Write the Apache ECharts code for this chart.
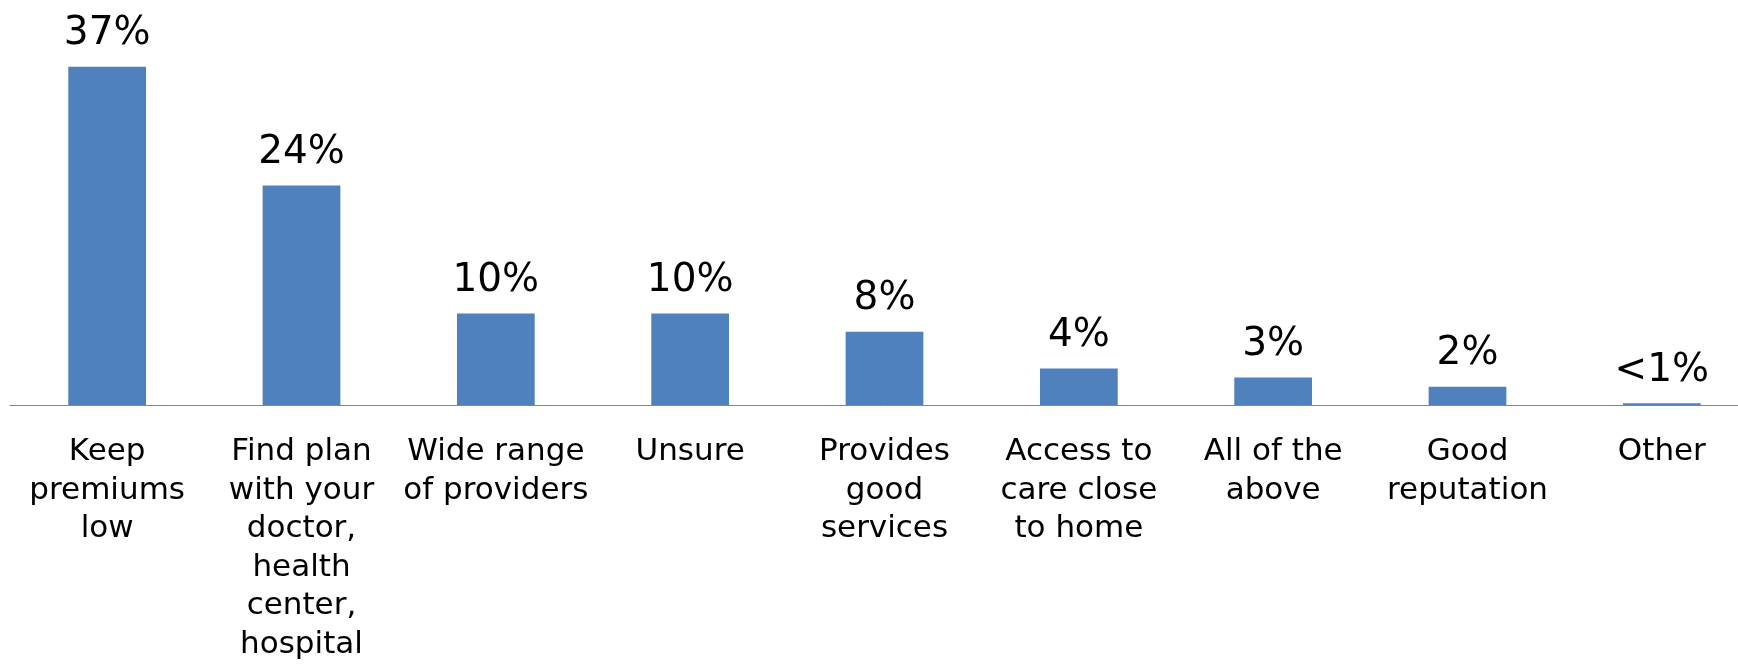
<!DOCTYPE html>
<html>
<head>
<meta charset="utf-8">
<title>Most important factor when choosing a plan</title>
<script src="https://cdn.jsdelivr.net/npm/echarts@6/dist/echarts.min.js"></script>
<style>
  html, body { margin: 0; padding: 0; background: #ffffff; overflow: hidden; }
  /* the plot runs slightly past the right edge of the page */
  #chart { width: 1759px; height: 664px; }
</style>
</head>
<body>
<div id="chart"></div>
<script>
// Answer categories (line breaks as they wrap under each bar)
const categories = [
  'Keep\npremiums\nlow',
  'Find plan\nwith your\ndoctor,\nhealth\ncenter,\nhospital',
  'Wide range\nof providers',
  'Unsure',
  'Provides\ngood\nservices',
  'Access to\ncare close\nto home',
  'All of the\nabove',
  'Good\nreputation',
  'Other'
];

// Share of respondents, percent
const shares = [37, 24, 10, 10, 8, 4, 3, 2, 0.2];

const chart = echarts.init(document.getElementById('chart'), null, { renderer: 'canvas' });

chart.setOption({
  animation: false,
  backgroundColor: '#ffffff',
  grid: { left: 10, right: 0, top: 0, bottom: 249, containLabel: false },
  xAxis: {
    type: 'category',
    data: categories,
    axisLine: { show: true, lineStyle: { color: '#868686', width: 1 } },
    axisTick: { show: false },
    axisLabel: {
      interval: 0,
      color: '#000000',
      fontFamily: 'DejaVu Sans',
      fontSize: 31,
      lineHeight: 38.5,
      margin: 28,
      align: 'center'
    }
  },
  yAxis: {
    type: 'value',
    min: 0,
    max: 44.3,
    show: false,
    splitLine: { show: false }
  },
  series: [{
    type: 'bar',
    data: shares,
    barWidth: '40%',
    itemStyle: { color: '#4F81BD' },
    label: {
      show: true,
      position: 'top',
      distance: 13,
      color: '#000000',
      fontFamily: 'DejaVu Sans',
      fontSize: 39,
      formatter: p => (p.value < 1 ? '<1%' : p.value + '%')
    }
  }]
});
</script>
</body>
</html>
